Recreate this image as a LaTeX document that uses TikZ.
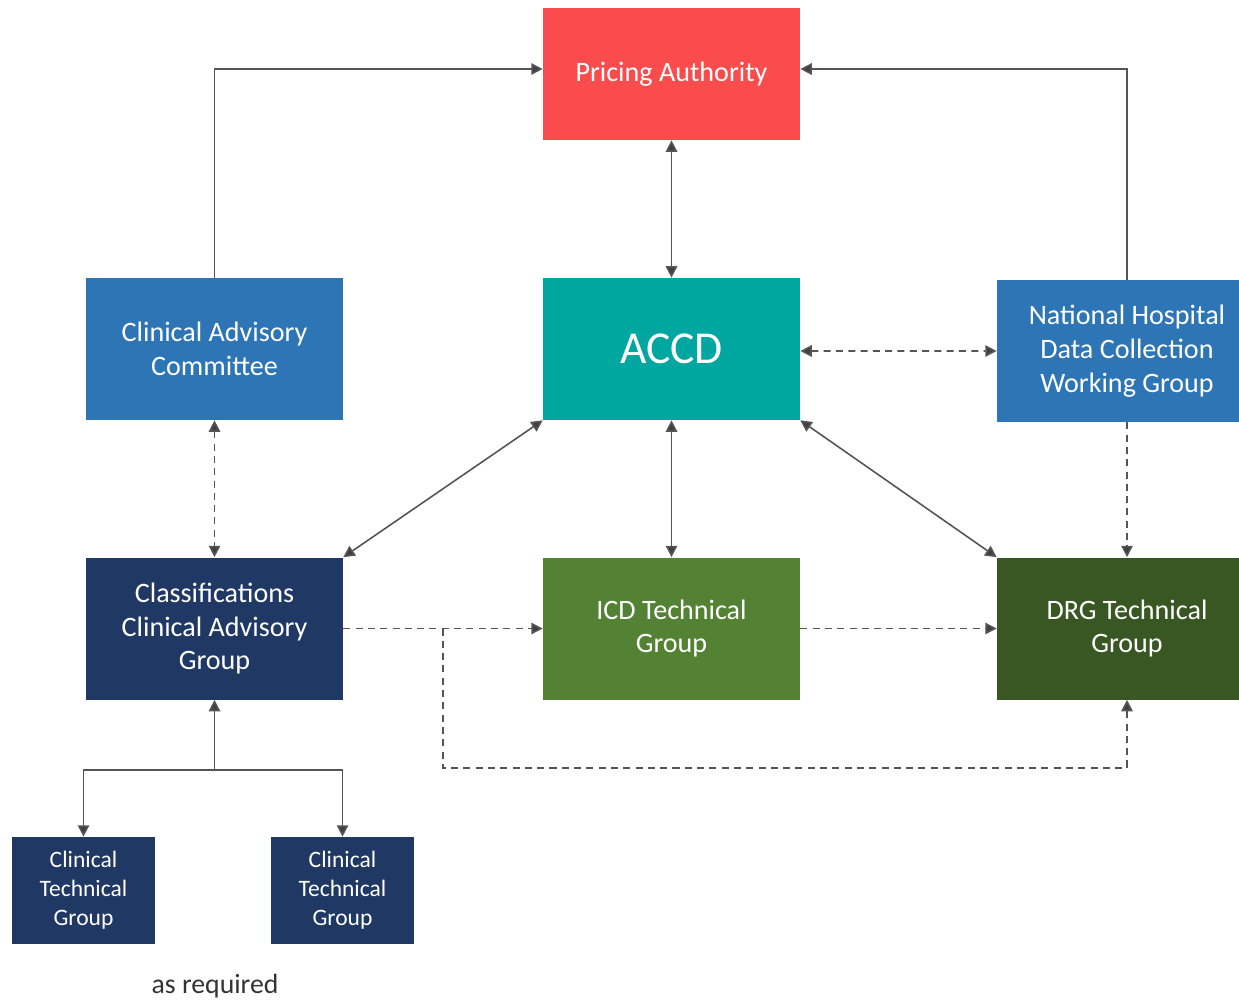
\documentclass[tikz,border=0pt]{standalone}
\usepackage{fontspec}
\setmainfont{Carlito}
\usetikzlibrary{arrows.meta}
\definecolor{PriceRed}{RGB}{250, 76, 76}
\definecolor{MidBlue}{RGB}{46, 117, 182}
\definecolor{Teal}{RGB}{0, 166, 160}
\definecolor{Navy}{RGB}{31, 56, 100}
\definecolor{LeafGreen}{RGB}{84, 130, 53}
\definecolor{DarkGreen}{RGB}{56, 87, 35}
\definecolor{LineGray}{RGB}{85, 85, 85}

\begin{document}
\begin{tikzpicture}[
        x=0.02cm, y=-0.02cm,
        box/.style = {rectangle, inner sep=2pt, align=center, text=white,
                      minimum width=5.14cm, minimum height=2.84cm,
                      font=\fontsize{16}{19.3}\selectfont},
        small/.style = {box, minimum width=2.86cm, minimum height=2.14cm,
                        font=\fontsize{13.4}{16.4}\selectfont},
        link/.style = {draw=LineGray, line width=0.9pt,
                       arrows={-Triangle[length=6.5pt, width=6.5pt, fill=black!75]}},
        both/.style = {link, arrows={Triangle[length=6.5pt, width=6.5pt, fill=black!75]-Triangle[length=6.5pt, width=6.5pt, fill=black!75]}},
        loose/.style = {dash pattern=on 4pt off 3pt}
    ]
    \useasboundingbox (0,0) rectangle (1239,1001);
    \clip (0,0) rectangle (1239,1001);

    \node (pa)   at (671.5,74)   [box, fill=PriceRed, minimum height=2.64cm] {Pricing Authority};
    \node (cac)  at (214.5,349)  [box, fill=MidBlue] {Clinical Advisory\\Committee};
    \node (accd) at (671.5,349)  [box, fill=Teal, font=\fontsize{26}{30}\selectfont] {ACCD};
    \node (nh)   at (1127,351)   [box, fill=MidBlue, minimum width=5.2cm] {National Hospital\\Data Collection\\Working Group};
    \node (ccag) at (214.5,628.5) [box, fill=Navy] {Classifications\\Clinical Advisory\\Group};
    \node (icd)  at (671.5,628.5) [box, fill=LeafGreen] {ICD Technical\\Group};
    \node (drg)  at (1127,628.5) [box, fill=DarkGreen, minimum width=5.2cm] {DRG Technical\\Group};
    \node (ctga) at (83.5,890.5) [small, fill=Navy] {Clinical\\Technical\\Group};
    \node (ctgb) at (342.5,890.5) [small, fill=Navy] {Clinical\\Technical\\Group};
    \node (req)  at (215,986) [text=black!80, font=\fontsize{15.8}{19}\selectfont] {as required};

    \coordinate (split) at (443,628.5);
    \coordinate (fork) at (214.5,770);

    \draw[link] (cac.north) |- ([yshift=0.1cm]pa.west);
    \draw[link] (nh.north) |- ([yshift=0.1cm]pa.east);
    \draw[both] (pa.south) -- (accd.north);
    \draw[both, loose] ([yshift=-0.04cm]accd.east) -- (nh.west);
    \draw[both, loose] (cac.south) -- (ccag.north);
    \draw[both] (accd.south west) -- (ccag.north east);
    \draw[both] (accd.south) -- (icd.north);
    \draw[both] (accd.south east) -- (drg.north west);
    \draw[link, loose] (nh.south) -- (drg.north);
    \draw[link, loose] (ccag.east) -- (icd.west);
    \draw[link, loose] (icd.east) -- (drg.west);
    \draw[link, loose] (split) -- (443,768) -| (drg.south);

    \draw[link] (fork) -- (ccag.south);
    \draw[link] (fork) -| (ctga.north);
    \draw[link] (fork) -| (ctgb.north);
\end{tikzpicture}
\end{document}
